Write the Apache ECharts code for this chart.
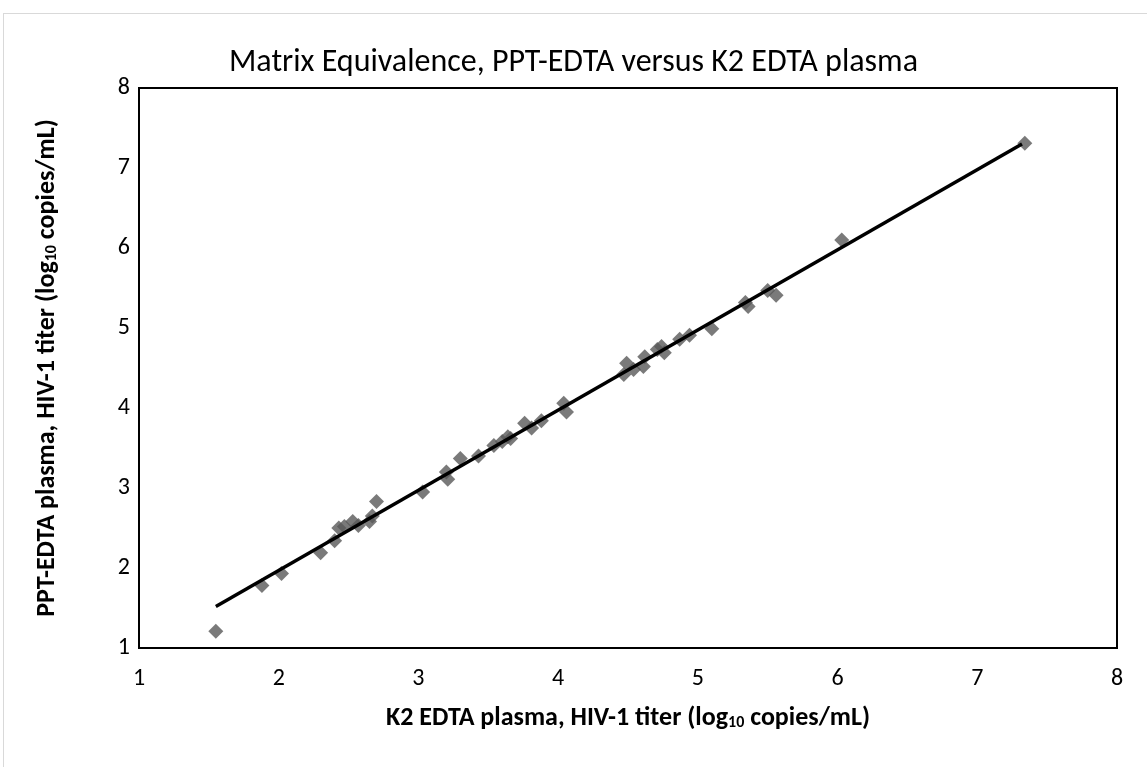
<!DOCTYPE html>
<html>
<head>
<meta charset="utf-8">
<script src="https://cdn.jsdelivr.net/npm/echarts@6/dist/echarts.min.js"></script>
<style>
html, body { margin: 0; padding: 0; background: #fff; }
#frame {
    position: absolute; left: 3px; top: 13px; width: 1160px; height: 770px;
    border: 1px solid #d9d9d9; box-sizing: border-box;
}
#chart { position: absolute; left: 0; top: 0; width: 1147px; height: 767px; }
</style>
</head>
<body>
<div id="frame"></div>
<div id="chart"></div>
<script type="text/javascript">
// K2 EDTA titer (x) vs PPT-EDTA titer (y), log10 copies/mL
var k2Titer = [1.55, 1.88, 2.02, 2.30, 2.40, 2.43, 2.47, 2.53, 2.57, 2.65, 2.67, 2.70,
    3.03, 3.20, 3.21, 3.30, 3.43, 3.54, 3.60, 3.64, 3.66, 3.76, 3.81, 3.88, 4.04, 4.06,
    4.47, 4.49, 4.54, 4.61, 4.62, 4.71, 4.74, 4.76, 4.87, 4.94, 5.10, 5.34, 5.36,
    5.50, 5.56, 6.03, 7.34];
var pptTiter = [1.21, 1.78, 1.93, 2.19, 2.34, 2.50, 2.52, 2.58, 2.53, 2.58, 2.65, 2.83,
    2.95, 3.20, 3.11, 3.37, 3.40, 3.53, 3.58, 3.64, 3.62, 3.81, 3.75, 3.84, 4.06, 3.95,
    4.42, 4.56, 4.48, 4.52, 4.64, 4.73, 4.77, 4.69, 4.86, 4.91, 4.99, 5.32, 5.27,
    5.47, 5.41, 6.10, 7.31];
// fitted line ends as drawn
var fitX = [1.55, 7.32];
var fitY = [1.52, 7.30];
var axisTicks = [1, 2, 3, 4, 5, 6, 7, 8];

var font = "Carlito, 'Open Sans', sans-serif";
var points = k2Titer.map(function (x, i) { return [x, pptTiter[i]]; });
var fit = fitX.map(function (x, i) { return [x, fitY[i]]; });

var nameRich = {
    a: { fontFamily: font, fontSize: 26, fontWeight: 'bold', color: '#000' },
    s: { fontFamily: font, fontSize: 16, fontWeight: 'bold', color: '#000', verticalAlign: 'bottom', padding: [8, 0, 0, 0] }
};

var chart = echarts.init(document.getElementById('chart'));
chart.setOption({
    animation: false,
    title: {
        text: 'Matrix Equivalence, PPT-EDTA versus K2 EDTA plasma',
        left: 'center',
        top: 42,
        textStyle: { fontFamily: font, fontSize: 32, fontWeight: 'normal', color: '#000' }
    },
    grid: {
        left: 139, right: 30, top: 88, bottom: 119,
        show: true, borderColor: '#000', borderWidth: 2, backgroundColor: 'transparent'
    },
    xAxis: {
        type: 'value', min: axisTicks[0], max: axisTicks[axisTicks.length - 1], interval: 1,
        axisLine: { show: false }, axisTick: { show: false }, splitLine: { show: false },
        axisLabel: { fontFamily: font, fontSize: 24, color: '#000', margin: 19 },
        name: '{a|K2 EDTA plasma, HIV-1 titer (log}{s|10}{a| copies/mL)}',
        nameLocation: 'middle', nameGap: 57,
        nameTextStyle: { rich: nameRich }
    },
    yAxis: {
        type: 'value', min: axisTicks[0], max: axisTicks[axisTicks.length - 1], interval: 1,
        axisLine: { show: false }, axisTick: { show: false }, splitLine: { show: false },
        axisLabel: { fontFamily: font, fontSize: 24, color: '#000', margin: 9 },
        name: '{a|PPT-EDTA plasma, HIV-1 titer (log}{s|10}{a| copies/mL)}',
        nameLocation: 'middle', nameGap: 79, nameRotate: 90,
        nameTextStyle: { rich: nameRich }
    },
    series: [
        {
            type: 'scatter', symbol: 'diamond', symbolSize: 15,
            itemStyle: { color: '#595959' },
            data: points, z: 2
        },
        {
            type: 'line', data: fit, showSymbol: false,
            lineStyle: { color: '#000', width: 3.5 }, z: 3
        }
    ]
});
</script>
</body>
</html>
